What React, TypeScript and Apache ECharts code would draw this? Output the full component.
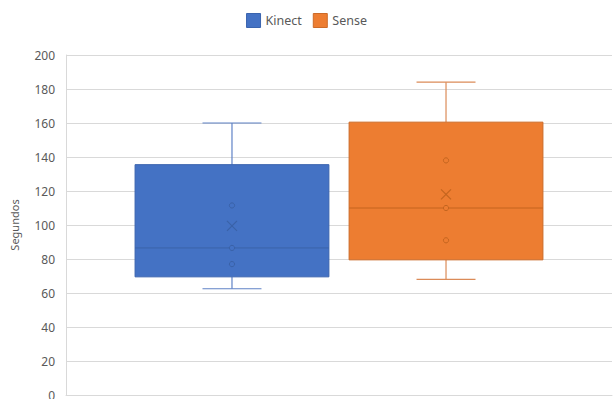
import React, { useEffect, useRef } from "react";
import * as echarts from "echarts";

// Time (seconds) per device, five-number summary plus mean and inner points
const seriesNames = ["Kinect", "Sense"];
const whiskerLow = [62.5, 68];
const quartile1 = [69.5, 79.5];
const medians = [86.5, 110];
const quartile3 = [135.5, 160.5];
const whiskerHigh = [160, 184];
const means = [99.5, 118];
const innerPoints = [
  [111.5, 86.5, 77],
  [138, 110, 91],
];
const yTicks = { min: 0, max: 200, interval: 20 };

const fills = ["#4472C4", "#ED7D31"];
const edges = ["#3A64AE", "#CC6A28"];
const whiskerColors = ["#5F82C6", "#DB8B58"];
const markColors = ["#3A62A8", "#C4651F"];

const FONT = "'Noto Sans', 'Open Sans', sans-serif";

function makeRenderItem(idx: number) {
  return (params: any, api: any) => {
    const band = api.size([1, 0])[0];
    const center = api.coord([0, 0])[0] + (idx === 0 ? -1 : 1) * 0.196 * band;
    const half = (0.355 * band) / 2;
    const cap = (0.108 * band) / 2;
    const y = (v: number) => api.coord([0, v])[1];
    const low = y(api.value(1));
    const q1 = y(api.value(2));
    const med = y(api.value(3));
    const q3 = y(api.value(4));
    const high = y(api.value(5));
    const mean = y(api.value(6));
    const pts = [api.value(7), api.value(8), api.value(9)];
    const wStyle = { stroke: whiskerColors[idx], lineWidth: 1.2 };
    const mStyle = { stroke: markColors[idx], lineWidth: 1, fill: fills[idx] };
    const children: any[] = [
      { type: "line", shape: { x1: center, y1: high, x2: center, y2: q3 }, style: wStyle },
      { type: "line", shape: { x1: center, y1: q1, x2: center, y2: low }, style: wStyle },
      { type: "line", shape: { x1: center - cap, y1: high, x2: center + cap, y2: high }, style: wStyle },
      { type: "line", shape: { x1: center - cap, y1: low, x2: center + cap, y2: low }, style: wStyle },
      {
        type: "rect",
        shape: { x: center - half, y: q3, width: half * 2, height: q1 - q3 },
        style: { fill: fills[idx], stroke: edges[idx], lineWidth: 1 },
      },
      {
        type: "line",
        shape: { x1: center - half, y1: med, x2: center + half, y2: med },
        style: { stroke: markColors[idx], lineWidth: 1 },
      },
      {
        type: "line",
        shape: { x1: center - 5, y1: mean - 5, x2: center + 5, y2: mean + 5 },
        style: { stroke: markColors[idx], lineWidth: 1.2 },
      },
      {
        type: "line",
        shape: { x1: center - 5, y1: mean + 5, x2: center + 5, y2: mean - 5 },
        style: { stroke: markColors[idx], lineWidth: 1.2 },
      },
    ];
    pts.forEach((p: number) => {
      children.push({ type: "circle", shape: { cx: center, cy: y(p), r: 2.6 }, style: mStyle });
    });
    return { type: "group", children };
  };
}

export default function App() {
  const ref = useRef<HTMLDivElement>(null);

  useEffect(() => {
    if (!ref.current) return;
    const chart = echarts.init(ref.current, undefined, { renderer: "svg" });
    const series = seriesNames.map((name, i) => ({
      name,
      type: "custom",
      itemStyle: { color: fills[i], borderColor: edges[i] },
      encode: { x: 0, y: [1, 2, 3, 4, 5, 6] },
      data: [
        [
          0,
          whiskerLow[i],
          quartile1[i],
          medians[i],
          quartile3[i],
          whiskerHigh[i],
          means[i],
          ...innerPoints[i],
        ],
      ],
      renderItem: makeRenderItem(i),
    }));
    chart.setOption({
      animation: false,
      textStyle: { fontFamily: FONT },
      legend: {
        top: 8,
        left: "center",
        itemWidth: 14,
        itemHeight: 14,
        itemGap: 11,
        icon: "rect",
        textStyle: { color: "#595959", fontSize: 12.5, fontFamily: FONT },
        data: seriesNames.map((n, i) => ({
          name: n,
          itemStyle: { color: fills[i], borderColor: edges[i], borderWidth: 1 },
        })),
      },
      grid: { left: 66, right: 1, top: 55, bottom: 4, outerBoundsMode: "none", containLabel: false },
      xAxis: {
        type: "category",
        data: [""],
        axisLabel: { show: false },
        axisTick: { show: false },
        axisLine: { lineStyle: { color: "#d9d9d9" } },
      },
      yAxis: {
        type: "value",
        min: yTicks.min,
        max: yTicks.max,
        interval: yTicks.interval,
        name: "Segundos",
        nameLocation: "middle",
        nameRotate: 90,
        nameGap: 46,
        nameTextStyle: { color: "#595959", fontSize: 11, fontFamily: FONT },
        axisLine: { show: true, lineStyle: { color: "#d9d9d9" } },
        axisTick: { show: false },
        axisLabel: { color: "#595959", fontSize: 12, margin: 11, fontFamily: FONT },
        splitLine: { lineStyle: { color: "#d9d9d9" } },
      },
      series,
    });
    return () => chart.dispose();
  }, []);

  return (
    <div
      ref={ref}
      style={{ position: "fixed", left: 0, top: 0, width: 613, height: 399, background: "#fff" }}
    />
  );
}
